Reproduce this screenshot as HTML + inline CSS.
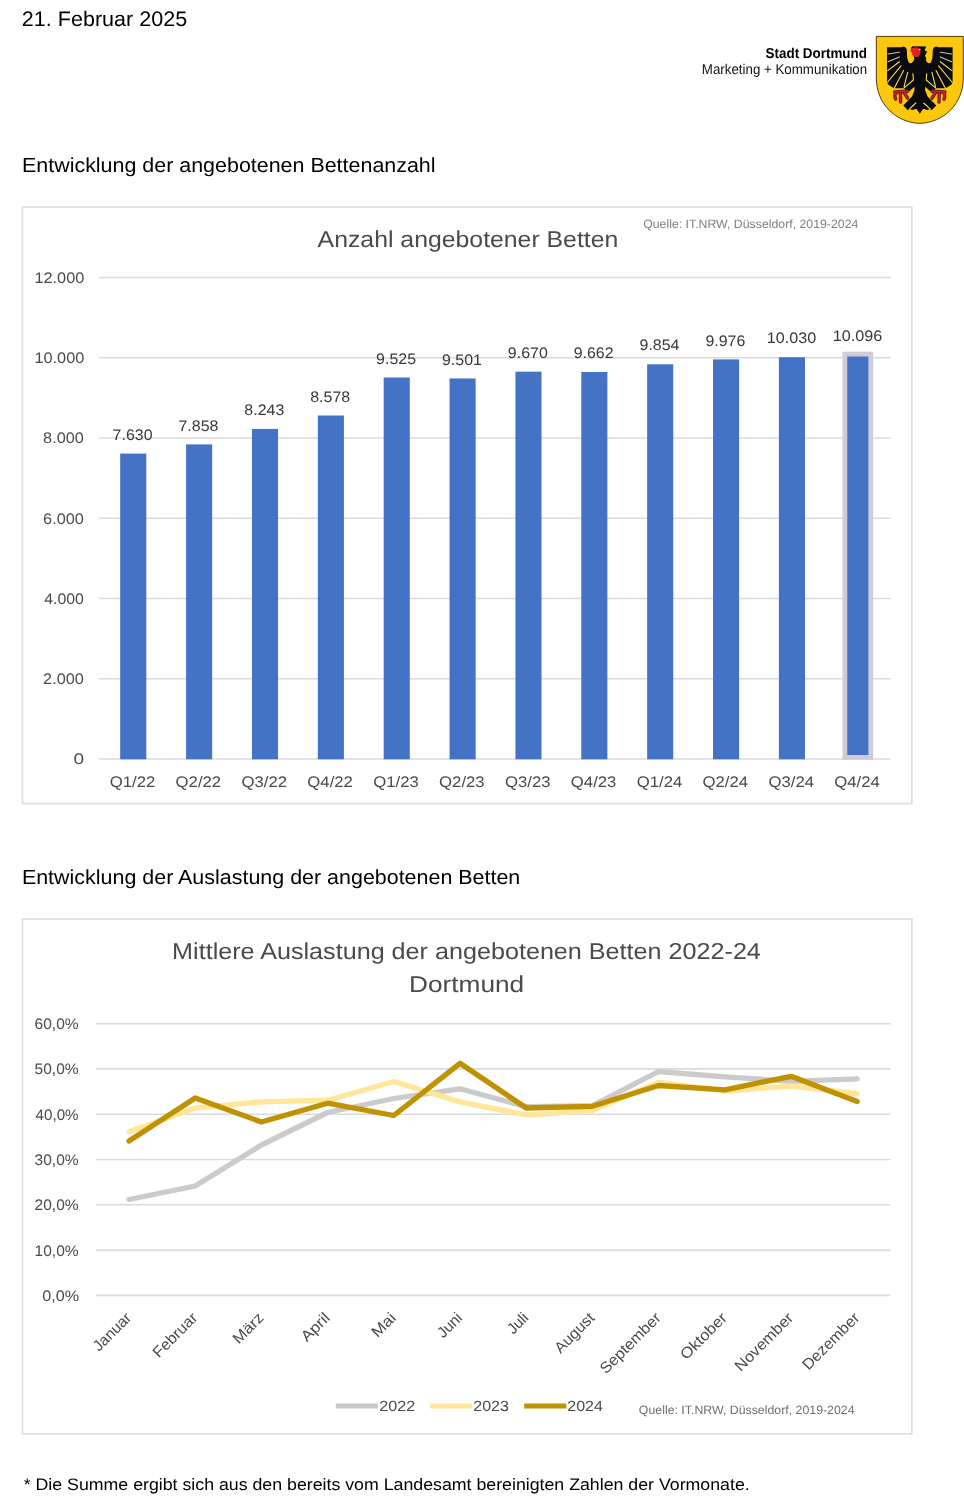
<!DOCTYPE html>
<html lang="de">
<head>
<meta charset="utf-8">
<title>Entwicklung der angebotenen Bettenanzahl – Stadt Dortmund</title>
<style>
html,body{margin:0;padding:0;background:#fff;}
body{width:964px;height:1500px;overflow:hidden;font-family:"Liberation Sans",sans-serif;}
svg{display:block;}
</style>
</head>
<body>
<svg width="964" height="1500" viewBox="0 0 964 1500" font-family="'Liberation Sans', sans-serif" text-rendering="geometricPrecision">
<rect width="964" height="1500" fill="#fff"/>
<rect x="22.4" y="207" width="889.4" height="596.6" fill="#fff" stroke="#dedede" stroke-width="1.7"/>
<rect x="22.5" y="919" width="889.4" height="514.8" fill="#fff" stroke="#dedede" stroke-width="1.7"/>
<path d="M98.8 759.00H890.8M98.8 678.75H890.8M98.8 598.50H890.8M98.8 518.25H890.8M98.8 438.00H890.8M98.8 357.75H890.8M98.8 277.50H890.8" stroke="#dbdbdb" stroke-width="1.6" fill="none"/>
<g fill="#4472c4"><rect x="120.20" y="453.55" width="26.1" height="305.75"/><rect x="186.07" y="444.40" width="26.1" height="314.90"/><rect x="251.94" y="428.95" width="26.1" height="330.35"/><rect x="317.81" y="415.51" width="26.1" height="343.79"/><rect x="383.68" y="377.51" width="26.1" height="381.79"/><rect x="449.55" y="378.47" width="26.1" height="380.83"/><rect x="515.42" y="371.69" width="26.1" height="387.61"/><rect x="581.29" y="372.01" width="26.1" height="387.29"/><rect x="647.16" y="364.31" width="26.1" height="394.99"/><rect x="713.03" y="359.41" width="26.1" height="399.89"/><rect x="778.90" y="357.25" width="26.1" height="402.05"/></g>
<rect x="844.87" y="354.10" width="25.9" height="403.30" fill="#4472c4" stroke="#cdced5" stroke-width="4.8"/>
<path d="M95.9 1295.40H890.5M95.9 1250.10H890.5M95.9 1204.80H890.5M95.9 1159.50H890.5M95.9 1114.20H890.5M95.9 1068.90H890.5M95.9 1023.60H890.5" stroke="#dbdbdb" stroke-width="1.6" fill="none"/>
<polyline points="129.0,1199.5 195.2,1186.0 261.4,1145.0 327.6,1112.5 393.8,1098.5 460.0,1088.8 526.2,1106.6 592.4,1105.6 658.6,1071.5 724.8,1076.8 791.0,1081.3 857.2,1078.9" fill="none" stroke="#cbcbcb" stroke-width="5.3" stroke-linecap="round" stroke-linejoin="round"/>
<polyline points="129.0,1131.7 195.2,1108.0 261.4,1101.8 327.6,1100.2 393.8,1081.5 460.0,1101.9 526.2,1115.0 592.4,1110.3 658.6,1082.5 724.8,1091.0 791.0,1086.0 857.2,1093.5" fill="none" stroke="#ffe699" stroke-width="5.3" stroke-linecap="round" stroke-linejoin="round"/>
<polyline points="129.0,1141.0 195.2,1098.0 261.4,1122.0 327.6,1103.2 393.8,1115.5 460.0,1063.3 526.2,1108.0 592.4,1106.3 658.6,1085.5 724.8,1089.8 791.0,1076.3 857.2,1101.5" fill="none" stroke="#c09100" stroke-width="5.3" stroke-linecap="round" stroke-linejoin="round"/>
<path d="M335.8 1405.9H377.8" stroke="#c9c9c9" stroke-width="5" stroke-linecap="butt"/>
<path d="M430.2 1405.9H471.8" stroke="#ffe699" stroke-width="5" stroke-linecap="butt"/>
<path d="M524.2 1405.9H566.3" stroke="#c09100" stroke-width="5" stroke-linecap="butt"/>
<g id="wappen">
<path d="M876.3 36.4H963.3V78C963.3 104 943.6 122.5 919.8 123.4C896 122.5 876.3 104 876.3 78Z" fill="#fdc70c" stroke="#3b2a00" stroke-width="0.9" stroke-linejoin="miter"/>
<g fill="#0a0a0f">
<path id="adlerhalb" d="M920.3 60L914.6 58.5L913.5 61Q911 64.8 908.6 62.2L907.2 58L906.8 49.5L905.5 47.2L903 46.6L901.5 47.3H887V81.5L888 84.6L894 88.3H903.8L906.8 91.6L909.4 91.2L914.4 86.8L914.5 90.2L912 96.6L903.3 105.4L907.9 110.2L909.6 109L912.4 109.9L916.4 108.7L919.8 113.6L920.3 113Z"/>
<use href="#adlerhalb" transform="matrix(-1 0 0 1 1839.6 0)"/>
<path d="M914.6 59L913.2 55L910.9 48L912.6 46.2L926.2 46.4L924.6 50.4L927.2 51.6L925 55.8L926.2 58.4L926 61L919.8 63Z"/>
</g>
<path d="M910.4 49.8L912.2 48L915.5 47.2L918.5 47.8L920.4 50L920.3 54L918.5 56.8L915.5 57.2L913.5 55.5L911.8 54.6L912.8 52.8L910.8 52Z" fill="#e3221c"/>
<circle cx="919.7" cy="49.5" r="0.8" fill="#fff"/>
<g id="federn" fill="none" stroke="#f5e050" stroke-width="1.1" stroke-linecap="round">
<path d="M888 54L899.4 52.2M888 61.8L899.4 56.9" stroke="#c9c2b4"/>
<path d="M887.7 70.6L899.4 61.8M887.7 82L901 65.9M894.2 88.2L903.6 70.6M904.1 86.7L907.7 72.2M904.1 87.9L913.4 79.9L912.9 73.7M909.2 109.2L915.9 103"/>
</g>
<use href="#federn" transform="matrix(-1 0 0 1 1839.6 0)"/>
<g id="klaue" fill="none" stroke-linecap="round" stroke-linejoin="round">
<path d="M907.6 91.2L894.6 92M896 92.2Q894 95.5 895.6 99.2M900.4 93.5L900.6 102M904.4 93L907.6 98.2" stroke="#6b1a10" stroke-width="3.4"/>
<path d="M907.6 91.2L894.6 92M896 92.2Q894 95.5 895.6 99.2M900.4 93.5L900.6 102M904.4 93L907.6 98.2" stroke="#d2202a" stroke-width="1.5"/>
</g>
<use href="#klaue" transform="matrix(-1 0 0 1 1839.6 0)"/>
</g>

<text x="21.87" y="26.10" font-size="21.0" fill="#000" textLength="165.26" lengthAdjust="spacingAndGlyphs">21. Februar 2025</text>
<text x="765.56" y="57.50" font-size="14.3" font-weight="bold" fill="#000" textLength="101.39" lengthAdjust="spacingAndGlyphs">Stadt Dortmund</text>
<text x="701.86" y="73.90" font-size="14.2" fill="#111" textLength="165.31" lengthAdjust="spacingAndGlyphs">Marketing + Kommunikation</text>
<text x="22.00" y="171.90" font-size="20.4" fill="#000" textLength="413.56" lengthAdjust="spacingAndGlyphs">Entwicklung der angebotenen Bettenanzahl</text>
<text x="317.60" y="246.60" font-size="23" fill="#4a4a4a" textLength="300.72" lengthAdjust="spacingAndGlyphs">Anzahl angebotener Betten</text>
<text x="643.18" y="227.90" font-size="12.1" fill="#808080" textLength="215.16" lengthAdjust="spacingAndGlyphs">Quelle: IT.NRW, Düsseldorf, 2019-2024</text>
<text x="34.43" y="282.90" font-size="15.3" fill="#4a4a4a" textLength="49.92" lengthAdjust="spacingAndGlyphs">12.000</text>
<text x="34.43" y="363.15" font-size="15.3" fill="#4a4a4a" textLength="49.92" lengthAdjust="spacingAndGlyphs">10.000</text>
<text x="43.14" y="443.40" font-size="15.3" fill="#4a4a4a" textLength="40.66" lengthAdjust="spacingAndGlyphs">8.000</text>
<text x="43.14" y="523.65" font-size="15.3" fill="#4a4a4a" textLength="40.66" lengthAdjust="spacingAndGlyphs">6.000</text>
<text x="44.20" y="603.90" font-size="15.3" fill="#4a4a4a" textLength="39.59" lengthAdjust="spacingAndGlyphs">4.000</text>
<text x="43.14" y="684.15" font-size="15.3" fill="#4a4a4a" textLength="40.66" lengthAdjust="spacingAndGlyphs">2.000</text>
<text x="73.56" y="764.40" font-size="15.3" fill="#4a4a4a" textLength="10.58" lengthAdjust="spacingAndGlyphs">0</text>
<text x="112.61" y="439.65" font-size="15.3" fill="#383838" textLength="39.94" lengthAdjust="spacingAndGlyphs">7.630</text>
<text x="109.76" y="786.60" font-size="15.3" fill="#4a4a4a" textLength="45.53" lengthAdjust="spacingAndGlyphs">Q1/22</text>
<text x="178.48" y="430.50" font-size="15.3" fill="#383838" textLength="39.94" lengthAdjust="spacingAndGlyphs">7.858</text>
<text x="175.63" y="786.60" font-size="15.3" fill="#4a4a4a" textLength="45.53" lengthAdjust="spacingAndGlyphs">Q2/22</text>
<text x="244.35" y="415.05" font-size="15.3" fill="#383838" textLength="39.94" lengthAdjust="spacingAndGlyphs">8.243</text>
<text x="241.50" y="786.60" font-size="15.3" fill="#4a4a4a" textLength="45.53" lengthAdjust="spacingAndGlyphs">Q3/22</text>
<text x="310.22" y="401.61" font-size="15.3" fill="#383838" textLength="39.94" lengthAdjust="spacingAndGlyphs">8.578</text>
<text x="307.37" y="786.60" font-size="15.3" fill="#4a4a4a" textLength="45.53" lengthAdjust="spacingAndGlyphs">Q4/22</text>
<text x="376.09" y="363.61" font-size="15.3" fill="#383838" textLength="39.94" lengthAdjust="spacingAndGlyphs">9.525</text>
<text x="373.24" y="786.60" font-size="15.3" fill="#4a4a4a" textLength="45.53" lengthAdjust="spacingAndGlyphs">Q1/23</text>
<text x="441.96" y="364.57" font-size="15.3" fill="#383838" textLength="39.94" lengthAdjust="spacingAndGlyphs">9.501</text>
<text x="439.11" y="786.60" font-size="15.3" fill="#4a4a4a" textLength="45.53" lengthAdjust="spacingAndGlyphs">Q2/23</text>
<text x="507.83" y="357.79" font-size="15.3" fill="#383838" textLength="39.94" lengthAdjust="spacingAndGlyphs">9.670</text>
<text x="504.98" y="786.60" font-size="15.3" fill="#4a4a4a" textLength="45.53" lengthAdjust="spacingAndGlyphs">Q3/23</text>
<text x="573.70" y="358.11" font-size="15.3" fill="#383838" textLength="39.94" lengthAdjust="spacingAndGlyphs">9.662</text>
<text x="570.85" y="786.60" font-size="15.3" fill="#4a4a4a" textLength="45.53" lengthAdjust="spacingAndGlyphs">Q4/23</text>
<text x="639.57" y="350.41" font-size="15.3" fill="#383838" textLength="39.94" lengthAdjust="spacingAndGlyphs">9.854</text>
<text x="636.72" y="786.60" font-size="15.3" fill="#4a4a4a" textLength="45.53" lengthAdjust="spacingAndGlyphs">Q1/24</text>
<text x="705.44" y="345.51" font-size="15.3" fill="#383838" textLength="39.94" lengthAdjust="spacingAndGlyphs">9.976</text>
<text x="702.59" y="786.60" font-size="15.3" fill="#4a4a4a" textLength="45.53" lengthAdjust="spacingAndGlyphs">Q2/24</text>
<text x="766.79" y="343.35" font-size="15.3" fill="#383838" textLength="49.50" lengthAdjust="spacingAndGlyphs">10.030</text>
<text x="768.46" y="786.60" font-size="15.3" fill="#4a4a4a" textLength="45.53" lengthAdjust="spacingAndGlyphs">Q3/24</text>
<text x="832.66" y="340.70" font-size="15.3" fill="#383838" textLength="49.50" lengthAdjust="spacingAndGlyphs">10.096</text>
<text x="834.33" y="786.60" font-size="15.3" fill="#4a4a4a" textLength="45.53" lengthAdjust="spacingAndGlyphs">Q4/24</text>
<text x="21.90" y="884.20" font-size="20.4" fill="#000" textLength="498.41" lengthAdjust="spacingAndGlyphs">Entwicklung der Auslastung der angebotenen Betten</text>
<text x="172.11" y="959.20" font-size="23" fill="#4a4a4a" textLength="588.76" lengthAdjust="spacingAndGlyphs">Mittlere Auslastung der angebotenen Betten 2022-24</text>
<text x="409.02" y="992.40" font-size="23" fill="#4a4a4a" textLength="115.20" lengthAdjust="spacingAndGlyphs">Dortmund</text>
<text x="34.59" y="1029.10" font-size="15.3" fill="#4a4a4a" textLength="43.99" lengthAdjust="spacingAndGlyphs">60,0%</text>
<text x="34.59" y="1074.40" font-size="15.3" fill="#4a4a4a" textLength="43.99" lengthAdjust="spacingAndGlyphs">50,0%</text>
<text x="35.60" y="1119.70" font-size="15.3" fill="#4a4a4a" textLength="42.97" lengthAdjust="spacingAndGlyphs">40,0%</text>
<text x="34.59" y="1165.00" font-size="15.3" fill="#4a4a4a" textLength="43.99" lengthAdjust="spacingAndGlyphs">30,0%</text>
<text x="34.59" y="1210.30" font-size="15.3" fill="#4a4a4a" textLength="43.99" lengthAdjust="spacingAndGlyphs">20,0%</text>
<text x="34.59" y="1255.60" font-size="15.3" fill="#4a4a4a" textLength="43.99" lengthAdjust="spacingAndGlyphs">10,0%</text>
<text x="42.24" y="1300.90" font-size="15.3" fill="#4a4a4a" textLength="36.88" lengthAdjust="spacingAndGlyphs">0,0%</text>
<text transform="translate(132.20 1318.80) rotate(-45)" text-anchor="end" font-size="15.3" fill="#4a4a4a" textLength="47.10" lengthAdjust="spacingAndGlyphs">Januar</text>
<text transform="translate(198.40 1318.80) rotate(-45)" text-anchor="end" font-size="15.3" fill="#4a4a4a" textLength="56.04" lengthAdjust="spacingAndGlyphs">Februar</text>
<text transform="translate(264.60 1318.80) rotate(-45)" text-anchor="end" font-size="15.3" fill="#4a4a4a" textLength="36.57" lengthAdjust="spacingAndGlyphs">März</text>
<text transform="translate(330.80 1318.80) rotate(-45)" text-anchor="end" font-size="15.3" fill="#4a4a4a" textLength="33.65" lengthAdjust="spacingAndGlyphs">April</text>
<text transform="translate(397.00 1318.80) rotate(-45)" text-anchor="end" font-size="15.3" fill="#4a4a4a" textLength="27.51" lengthAdjust="spacingAndGlyphs">Mai</text>
<text transform="translate(463.20 1318.80) rotate(-45)" text-anchor="end" font-size="15.3" fill="#4a4a4a" textLength="28.14" lengthAdjust="spacingAndGlyphs">Juni</text>
<text transform="translate(529.40 1318.80) rotate(-45)" text-anchor="end" font-size="15.3" fill="#4a4a4a" textLength="22.93" lengthAdjust="spacingAndGlyphs">Juli</text>
<text transform="translate(595.60 1318.80) rotate(-45)" text-anchor="end" font-size="15.3" fill="#4a4a4a" textLength="49.74" lengthAdjust="spacingAndGlyphs">August</text>
<text transform="translate(661.80 1318.80) rotate(-45)" text-anchor="end" font-size="15.3" fill="#4a4a4a" textLength="78.94" lengthAdjust="spacingAndGlyphs">September</text>
<text transform="translate(728.00 1318.80) rotate(-45)" text-anchor="end" font-size="15.3" fill="#4a4a4a" textLength="58.98" lengthAdjust="spacingAndGlyphs">Oktober</text>
<text transform="translate(794.20 1318.80) rotate(-45)" text-anchor="end" font-size="15.3" fill="#4a4a4a" textLength="75.54" lengthAdjust="spacingAndGlyphs">November</text>
<text transform="translate(860.40 1318.80) rotate(-45)" text-anchor="end" font-size="15.3" fill="#4a4a4a" textLength="73.50" lengthAdjust="spacingAndGlyphs">Dezember</text>
<text x="379.30" y="1410.50" font-size="14.7" fill="#4a4a4a" textLength="36.06" lengthAdjust="spacingAndGlyphs">2022</text>
<text x="473.31" y="1410.50" font-size="14.7" fill="#4a4a4a" textLength="35.64" lengthAdjust="spacingAndGlyphs">2023</text>
<text x="567.21" y="1410.50" font-size="14.7" fill="#4a4a4a" textLength="35.75" lengthAdjust="spacingAndGlyphs">2024</text>
<text x="638.88" y="1413.90" font-size="12.1" fill="#6e6e6e" textLength="215.66" lengthAdjust="spacingAndGlyphs">Quelle: IT.NRW, Düsseldorf, 2019-2024</text>
<text x="23.70" y="1490.30" font-size="16.6" fill="#000" textLength="726.01" lengthAdjust="spacingAndGlyphs">* Die Summe ergibt sich aus den bereits vom Landesamt bereinigten Zahlen der Vormonate.</text>
</svg>
</body>
</html>
